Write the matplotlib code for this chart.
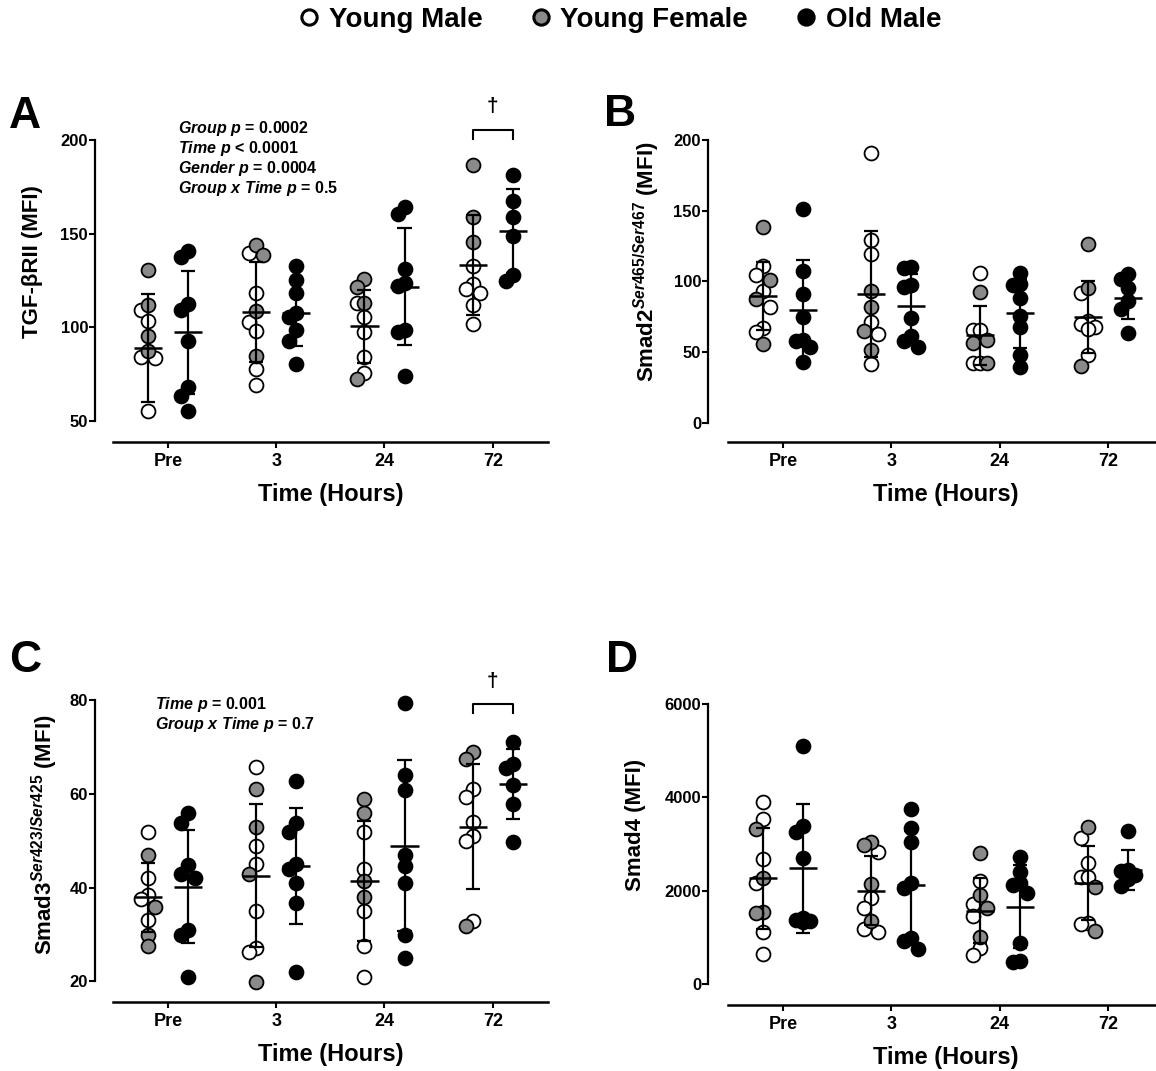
import numpy as np
import matplotlib
matplotlib.use('Agg')
import matplotlib.pyplot as plt
from matplotlib.lines import Line2D

W, H = 1156, 1071

plt.rcParams['font.family'] = ['Liberation Sans', 'DejaVu Sans']
plt.rcParams['font.weight'] = 'bold'
plt.rcParams['axes.labelweight'] = 'bold'
plt.rcParams['mathtext.fontset'] = 'custom'
plt.rcParams['mathtext.rm'] = 'Liberation Sans:bold'
plt.rcParams['mathtext.it'] = 'Liberation Sans:italic:bold'
plt.rcParams['mathtext.bf'] = 'Liberation Sans:bold'

times = ['Pre', '3', '24', '72']

# ---- Panel A: TGF-bRII ----
a_ym = [[109.3, 103.6, 84.4, 83.7, 55.5],
        [139.5, 118.1, 102.7, 97.9, 77.8, 69.4],
        [112.8, 105.3, 97.3, 84.4, 75.5],
        [132.9, 123.2, 120.5, 118.2, 112.1, 101.8]]
a_yf = [[130.6, 112.1, 95.6, 87.2],
        [144.1, 138.6, 108.5, 85.0],
        [125.8, 121.4, 112.8, 72.5],
        [186.7, 159.1, 145.4]]
a_om = [[140.6, 137.4, 112.5, 109.3, 92.5, 68.4, 63.6, 55.5],
        [132.9, 125.3, 118.4, 107.7, 105.7, 98.6, 92.9, 80.5],
        [164.4, 160.5, 131.2, 123.5, 122.2, 98.6, 97.3, 74.2],
        [181.5, 167.6, 158.7, 148.9, 128.1, 124.9]]
a_mean_y = [89.0, 108.0, 100.5, 133.3]
a_sd_y = [29.0, 26.7, 19.6, 26.5]
a_mean_o = [97.3, 107.5, 121.7, 151.6]
a_sd_o = [33.0, 17.4, 31.3, 22.3]

# ---- Panel B: Smad2 ----
b_ym = [[110.8, 104.4, 93.4, 82.0, 66.8, 63.9],
        [190.5, 129.2, 119.3, 71.4, 62.7, 41.5],
        [106.1, 65.6, 65.6, 42.4, 42.4],
        [91.5, 72.1, 69.8, 67.9, 66.1, 47.9]]
b_yf = [[138.2, 100.9, 87.3, 55.7],
        [93.1, 82.0, 65.1, 51.4],
        [92.2, 58.5, 56.6, 42.0],
        [126.4, 95.0, 40.3]]
b_om = [[150.9, 107.5, 91.0, 75.0, 58.5, 58.0, 53.7, 43.1],
        [110.3, 109.2, 97.4, 96.2, 73.8, 61.3, 58.0, 53.7],
        [106.1, 97.9, 97.4, 88.0, 75.5, 67.5, 47.9, 39.6],
        [105.2, 101.4, 95.0, 86.1, 80.2, 63.2]]
b_mean_y = [89.8, 91.0, 62.0, 75.0]
b_sd_y = [24.2, 44.5, 20.9, 25.6]
b_mean_o = [79.7, 82.5, 77.4, 88.4]
b_sd_o = [35.6, 22.8, 24.4, 15.3]

# ---- Panel C: Smad3 ----
c_ym = [[51.9, 42.0, 38.4, 37.5, 33.1],
        [65.8, 48.9, 45.0, 34.9, 27.1, 26.3],
        [51.9, 43.9, 35.1, 27.5, 21.0],
        [61.0, 59.4, 53.9, 51.0, 49.9, 32.9]]
c_yf = [[47.0, 35.8, 29.9, 27.5],
        [61.0, 52.9, 43.0, 19.9],
        [58.8, 55.8, 41.5, 37.9],
        [69.0, 67.4, 31.9]]
c_om = [[56.0, 53.8, 44.8, 43.0, 42.0, 31.0, 29.9, 20.9],
        [62.8, 53.8, 51.9, 45.0, 43.9, 40.9, 36.8, 21.9],
        [79.4, 64.0, 60.8, 47.0, 44.5, 40.9, 29.9, 24.9],
        [71.1, 66.4, 65.4, 61.9, 57.8, 49.8]]
c_mean_y = [37.9, 42.5, 41.5, 53.0]
c_sd_y = [7.35, 15.25, 12.8, 13.35]
c_mean_o = [40.2, 44.6, 48.9, 62.1]
c_sd_o = [12.1, 12.3, 18.2, 7.45]

# ---- Panel D: Smad4 ----
d_ym = [[3909, 3532, 2682, 2162, 1113, 642],
        [2838, 1841, 1627, 1177, 1126],
        [2211, 1719, 1462, 783, 627],
        [3138, 2590, 2303, 2303, 1318, 1284]]
d_yf = [[3318, 2282, 1541, 1520],
        [3052, 2982, 2147, 1361],
        [2817, 1911, 1640, 1019],
        [3360, 2089, 1147]]
d_om = [[5100, 3388, 3266, 2710, 1420, 1380, 1350, 1340],
        [3746, 3352, 3039, 2175, 2055, 997, 927, 749],
        [2718, 2410, 2162, 2125, 1948, 878, 499, 484],
        [3288, 2450, 2430, 2350, 2250, 2100]]
d_mean_y = [2268, 2004, 1575, 2175]
d_sd_y = [1088, 735, 693, 788]
d_mean_o = [2483, 2130, 1661, 2447]
d_sd_o = [1377, 1150, 884, 428]

CAT_PX = 108.3      # pixels between time points
GRP = 0.185         # offset of young / old columns
GREY = '#8a8a8a'


def swarm(vals, py, step=7.0, diam=11.0):
    """compact beeswarm: offsets (px) kept within +-step, overlap allowed"""
    order = np.argsort(vals)[::-1]
    placed = []
    offs = np.zeros(len(vals))
    for i in order:
        y = vals[i] * py
        best, best_d = 0.0, -1
        for c in [0.0, -step, step]:
            d = min([np.hypot(c - px, y - qy) for px, qy in placed] or [99])
            if d >= diam:
                best = c
                break
            if d > best_d:
                best, best_d = c, d
        offs[i] = best
        placed.append((best, y))
    return offs


def panel(box, yspine, ylim, yticks, ym, yf, om, my, sy, mo, so, ylab, ylab_xy, letter, letter_xy):
    l, r, t, b = box
    ax = fig.add_axes([l / W, 1 - b / H, (r - l) / W, (b - t) / H])
    ax.set_xlim(-0.51, 3.51)
    ax.set_ylim(*ylim)
    py = (b - t) / (ylim[1] - ylim[0])

    for k in range(4):
        yv = np.array(ym[k] + yf[k], dtype=float)
        kind = ['m'] * len(ym[k]) + ['f'] * len(yf[k])
        off = swarm(yv, py) / CAT_PX
        xs = k - GRP + off
        for x, v, kd in zip(xs, yv, kind):
            ax.scatter(x, v, s=100, facecolor='white' if kd == 'm' else GREY,
                       edgecolor='black', linewidth=1.3, zorder=3, clip_on=False)
        ov = np.array(om[k], dtype=float)
        off = swarm(ov, py) / CAT_PX
        ax.scatter(k + GRP + off, ov, s=100, facecolor='black', edgecolor='black',
                   linewidth=1.3, zorder=3, clip_on=False)

        for xc, m, s in [(k - GRP, my[k], sy[k]), (k + GRP, mo[k], so[k])]:
            ax.vlines(xc, m - s, m + s, color='black', lw=1.6, zorder=4)
            ax.hlines([m - s, m + s], xc - 0.065, xc + 0.065, color='black', lw=1.6, zorder=4)
            ax.hlines(m, xc - 0.13, xc + 0.13, color='black', lw=1.8, zorder=4)

    for s in ['top', 'right']:
        ax.spines[s].set_visible(False)
    ax.spines['left'].set_position(('outward', (l - yspine) * 0.72))
    ax.spines['left'].set_bounds(yticks[0], yticks[-1])
    ax.spines['left'].set_linewidth(1.6)
    ax.spines['bottom'].set_linewidth(1.8)
    ax.set_yticks(yticks)
    ax.set_xticks(range(4))
    ax.set_xticklabels(times)
    ax.tick_params(axis='y', length=4, width=1.5, labelsize=12, pad=1)
    ax.tick_params(axis='x', length=4, width=1.5, labelsize=13, pad=4)
    ax.set_xlabel('Time (Hours)', fontsize=17, labelpad=9)
    fig.text(ylab_xy[0] / W, 1 - ylab_xy[1] / H, ylab, rotation=90, fontsize=16,
             ha='center', va='center')
    fig.text(letter_xy[0] / W, 1 - letter_xy[1] / H, letter, fontsize=32,
             ha='center', va='center')
    return ax


def bracket(ax, k, y0, y1, ytext):
    ax.plot([k - GRP, k - GRP, k + GRP, k + GRP], [y0, y1, y1, y0], color='black',
            lw=1.5, clip_on=False)
    ax.text(k, ytext, '\u2020', ha='center', va='center', fontsize=15, clip_on=False)


fig = plt.figure(figsize=(W / 100, H / 100), dpi=100)

axA = panel((112.7, 548, 140, 442.3), 95, (38.7, 200), [50, 100, 150, 200],
            a_ym, a_yf, a_om, a_mean_y, a_sd_y, a_mean_o, a_sd_o,
            'TGF-\u03b2RII (MFI)', (33, 262), 'A', (25, 116))
axB = panel((728, 1163, 140, 442.3), 708, (-13.8, 200), [0, 50, 100, 150, 200],
            b_ym, b_yf, b_om, b_mean_y, b_sd_y, b_mean_o, b_sd_o,
            r'Smad2$^{\mathit{Ser465/Ser467}}$ (MFI)', (647, 262), 'B', (620, 114))
axC = panel((112.7, 548, 700, 1002), 95, (15.6, 80), [20, 40, 60, 80],
            c_ym, c_yf, c_om, c_mean_y, c_sd_y, c_mean_o, c_sd_o,
            r'Smad3$^{\mathit{Ser423/Ser425}}$ (MFI)', (45, 835), 'C', (25, 661))
axD = panel((728, 1163, 704, 1005), 708, (-443, 6000), [0, 2000, 4000, 6000],
            d_ym, d_yf, d_om, d_mean_y, d_sd_y, d_mean_o, d_sd_o,
            'Smad4 (MFI)', (636, 825), 'D', (622, 660))

bracket(axA, 3, 200.5, 205.3, 218)
bracket(axC, 3, 77.2, 79.1, 84.0)

statsA = [r'$\mathit{Group\ p}$ = 0.0002', r'$\mathit{Time\ p}$ < 0.0001',
          r'$\mathit{Gender\ p}$ = 0.0004', r'$\mathit{Group\ x\ Time\ p}$ = 0.5']
for i, s in enumerate(statsA):
    fig.text(178 / W, 1 - (128 + 20 * i) / H, s, fontsize=11.5, ha='left', va='center')
statsC = [r'$\mathit{Time\ p}$ = 0.001', r'$\mathit{Group\ x\ Time\ p}$ = 0.7']
for i, s in enumerate(statsC):
    fig.text(155 / W, 1 - (705 + 19.5 * i) / H, s, fontsize=11.5, ha='left', va='center')

handles = [Line2D([], [], ls='', marker='o', ms=11, mfc=c, mec='black', mew=2.2)
           for c in ['white', GREY, 'black']]
fig.legend(handles, ['Young Male', 'Young Female', 'Old Male'], loc='center',
           bbox_to_anchor=(0.535, 1 - 20 / H), ncol=3, frameon=False, fontsize=20,
           handletextpad=0.2, columnspacing=1.6, handlelength=1.0)

fig.savefig('out.png', dpi=100)
